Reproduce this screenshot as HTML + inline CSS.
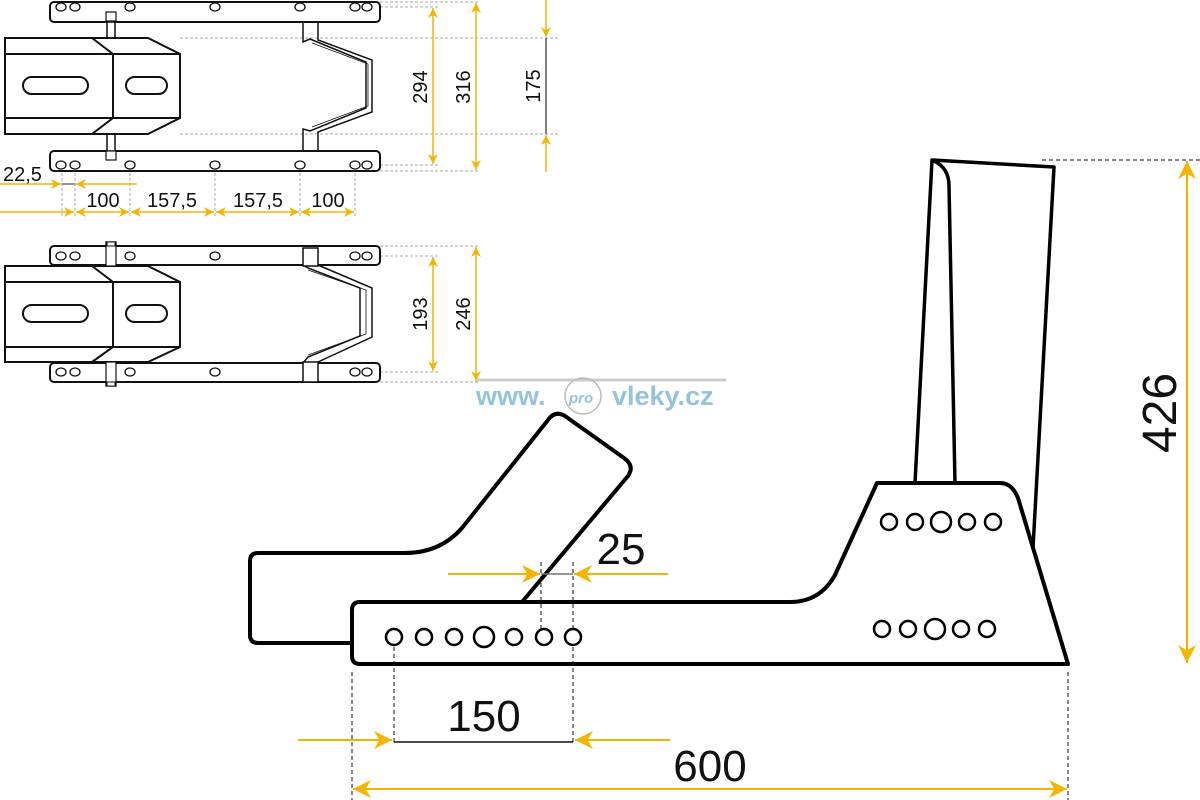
<!DOCTYPE html>
<html><head><meta charset="utf-8"><style>
html,body{margin:0;padding:0;background:#fff;}
svg{display:block;}
text{font-family:"Liberation Sans","DejaVu Sans",sans-serif;fill:#111;}
</style></head><body>
<svg width="1200" height="800" viewBox="0 0 1200 800" xmlns="http://www.w3.org/2000/svg">
<defs>
<marker id="a" viewBox="0 0 10 10" refX="10" refY="5" markerWidth="10" markerHeight="10" markerUnits="userSpaceOnUse" orient="auto-start-reverse"><path d="M0,0 L10,5 L0,10 L3,5 Z" fill="#f5b400"/></marker>
<marker id="b" viewBox="0 0 10 10" refX="10" refY="5" markerWidth="18" markerHeight="18" markerUnits="userSpaceOnUse" orient="auto-start-reverse"><path d="M0,0 L10,5 L0,10 L3,5 Z" fill="#f5b400"/></marker>
</defs>

<!-- ===== TOP VIEW 1 ===== -->
<g fill="none" stroke="#aaa" stroke-width="1" stroke-dasharray="3,2">
<line x1="380" y1="2" x2="480" y2="2"/><line x1="380" y1="7" x2="440" y2="7"/>
<line x1="180" y1="38" x2="560" y2="38"/><line x1="180" y1="134" x2="560" y2="134"/>
<line x1="380" y1="165" x2="440" y2="165"/><line x1="380" y1="171" x2="480" y2="171"/>
<line x1="62" y1="168" x2="62" y2="218"/><line x1="75" y1="168" x2="75" y2="218"/>
<line x1="130" y1="168" x2="130" y2="218"/><line x1="215" y1="168" x2="215" y2="218"/>
<line x1="300" y1="168" x2="300" y2="218"/><line x1="355" y1="168" x2="355" y2="218"/>
<line x1="380" y1="246" x2="480" y2="246"/><line x1="380" y1="256" x2="440" y2="256"/>
<line x1="380" y1="372" x2="440" y2="372"/><line x1="380" y1="382" x2="480" y2="382"/>
</g>
<g fill="#fff" stroke="#111" stroke-width="2">
<rect x="50" y="2" width="330" height="20" rx="4"/>
<rect x="50" y="151" width="330" height="20" rx="4"/>
<rect x="107" y="22" width="8" height="129" stroke-width="1.5"/>
<rect x="106" y="12" width="10" height="9" stroke-width="1.2"/>
<rect x="106" y="151" width="10" height="9" stroke-width="1.2"/>
<path d="M5,38 L148,38 L180,54 L180,118 L148,134 L5,134 Z"/>
<path d="M5,54 H180 M5,118 H180 M92,38 L113,54 V118 L92,134" fill="none"/>
<rect x="23" y="77" width="65" height="17" rx="8.5"/>
<rect x="126" y="77" width="41" height="17" rx="8.5"/>
</g>
<g fill="none" stroke="#111" stroke-width="1.5">
<path d="M303,22 V42 L310,39 L366,62 V108 L310,131 L303,129 V151"/>
<path d="M318,22 V40 L372,60 V112 L318,132 V151"/>
<path d="M312,43 L368,64 V106 L312,127" stroke-width="0.8"/>
</g>
<g fill="none" stroke="#111" stroke-width="1.3">
<ellipse cx="61" cy="7" rx="5" ry="4"/><ellipse cx="75" cy="7" rx="5" ry="4"/><ellipse cx="130" cy="7" rx="5" ry="4"/><ellipse cx="215" cy="7" rx="5" ry="4"/><ellipse cx="300" cy="7" rx="5" ry="4"/><ellipse cx="355" cy="7" rx="5" ry="4"/><ellipse cx="367" cy="7" rx="5" ry="4"/>
<ellipse cx="61" cy="165" rx="5" ry="4"/><ellipse cx="75" cy="165" rx="5" ry="4"/><ellipse cx="130" cy="165" rx="5" ry="4"/><ellipse cx="215" cy="165" rx="5" ry="4"/><ellipse cx="300" cy="165" rx="5" ry="4"/><ellipse cx="355" cy="165" rx="5" ry="4"/><ellipse cx="367" cy="165" rx="5" ry="4"/>
</g>
<!-- dims top view 1 -->
<g stroke="#f5b400" stroke-width="1.5" fill="none">
<line x1="433" y1="8" x2="433" y2="164" marker-start="url(#a)" marker-end="url(#a)"/>
<line x1="476" y1="3" x2="476" y2="170" marker-start="url(#a)" marker-end="url(#a)"/>
<line x1="546" y1="0" x2="546" y2="37" marker-end="url(#a)"/>
<line x1="546" y1="172" x2="546" y2="135" marker-end="url(#a)"/>
<line x1="0" y1="184" x2="61" y2="184" marker-end="url(#a)"/>
<line x1="137" y1="184" x2="76" y2="184" marker-end="url(#a)"/>
<line x1="0" y1="212" x2="74" y2="212" marker-end="url(#a)"/>
<line x1="76" y1="212" x2="129" y2="212" marker-start="url(#a)" marker-end="url(#a)"/>
<line x1="131" y1="212" x2="214" y2="212" marker-start="url(#a)" marker-end="url(#a)"/>
<line x1="216" y1="212" x2="299" y2="212" marker-start="url(#a)" marker-end="url(#a)"/>
<line x1="301" y1="212" x2="354" y2="212" marker-start="url(#a)" marker-end="url(#a)"/>
</g>
<line x1="546" y1="38" x2="546" y2="134" stroke="#555" stroke-width="1.5"/>
<line x1="62" y1="184" x2="75" y2="184" stroke="#555" stroke-width="1.2"/>
<g font-size="20">
<text transform="translate(427,87) rotate(-90)" text-anchor="middle">294</text>
<text transform="translate(470,87) rotate(-90)" text-anchor="middle">316</text>
<text transform="translate(540,86) rotate(-90)" text-anchor="middle">175</text>
<text x="3" y="181">22,5</text>
<text x="103" y="207" text-anchor="middle">100</text>
<text x="172" y="207" text-anchor="middle">157,5</text>
<text x="258" y="207" text-anchor="middle">157,5</text>
<text x="328" y="207" text-anchor="middle">100</text>
<text transform="translate(427,314) rotate(-90)" text-anchor="middle">193</text>
<text transform="translate(470,314) rotate(-90)" text-anchor="middle">246</text>
</g>

<!-- ===== TOP VIEW 2 ===== -->
<g fill="#fff" stroke="#111" stroke-width="2">
<rect x="106" y="242" width="10" height="144" stroke-width="1.2"/>
<path d="M5,266 L148,266 L180,282 L180,347 L148,362 L5,362 Z"/>
<path d="M5,282 H180 M5,347 H180 M92,266 L113,282 V347 L92,362" fill="none"/>
<rect x="23" y="305" width="65" height="17" rx="8.5"/>
<rect x="126" y="305" width="41" height="17" rx="8.5"/>
<rect x="50" y="246" width="330" height="19" rx="4"/>
<rect x="50" y="363" width="330" height="19" rx="4"/>
<path d="M303,265 L308,268 L360,288 V336 L308,357 L303,363 M318,265 L372,288 V337 L318,362" fill="none" stroke-width="1.5"/>
<path d="M308,270 L366,290 V334 L308,355" fill="none" stroke-width="0.8"/>
<rect x="106" y="242" width="10" height="24" stroke-width="1.2"/>
<rect x="106" y="362" width="10" height="24" stroke-width="1.2"/>
<rect x="107" y="242" width="8" height="4" stroke-width="1"/>
<rect x="107" y="382" width="8" height="4" stroke-width="1"/>
<rect x="303" y="248" width="15" height="18" stroke-width="1.5"/>
<rect x="303" y="362" width="15" height="20" stroke-width="1.5"/>
</g>
<g fill="none" stroke="#111" stroke-width="1.3">
<ellipse cx="61" cy="256" rx="5" ry="4"/><ellipse cx="75" cy="256" rx="5" ry="4"/><ellipse cx="130" cy="256" rx="5" ry="4"/><ellipse cx="215" cy="256" rx="5" ry="4"/><ellipse cx="355" cy="256" rx="5" ry="4"/><ellipse cx="367" cy="256" rx="5" ry="4"/>
<ellipse cx="61" cy="372" rx="5" ry="4"/><ellipse cx="75" cy="372" rx="5" ry="4"/><ellipse cx="130" cy="372" rx="5" ry="4"/><ellipse cx="215" cy="372" rx="5" ry="4"/><ellipse cx="355" cy="372" rx="5" ry="4"/><ellipse cx="367" cy="372" rx="5" ry="4"/>
</g>
<g stroke="#f5b400" stroke-width="1.5" fill="none">
<line x1="433" y1="257" x2="433" y2="371" marker-start="url(#a)" marker-end="url(#a)"/>
<line x1="476" y1="247" x2="476" y2="381" marker-start="url(#a)" marker-end="url(#a)"/>
</g>

<!-- ===== watermark ===== -->
<line x1="476" y1="380" x2="726" y2="380" stroke="#ccc" stroke-width="3"/>
<circle cx="583" cy="396" r="18" fill="none" stroke="#bbb" stroke-width="1.5"/>
<text x="476" y="405" font-size="27" font-weight="bold" style="fill:#94c3dd">www.</text>
<text x="569" y="403" font-size="15" font-style="italic" font-weight="bold" style="fill:#94c3dd">pro</text>
<text x="612" y="405" font-size="27" font-weight="bold" style="fill:#94c3dd">vleky.cz</text>

<!-- ===== SIDE VIEW ===== -->
<g fill="none" stroke="#000" stroke-width="3.5" stroke-linejoin="round">
<path d="M915,483 L932,160 L1054,167 L1033,548"/>
<path d="M934,161 Q949,168 949,186 L955,483"/>
</g>
<g fill="#fff" stroke="#000" stroke-width="4" stroke-linejoin="round">
<path d="M352,643 H258 Q250,643 250,635 V561 Q250,553 258,553 H405 Q440,553 462,528 L548,420 Q555,410 565,416 L624,458 Q635,466 628,476 L522,602" />
<path d="M522,602 H790 Q820,602 835,575 L877,483 H1000 Q1012,483 1018,498 L1068,664 H360 Q352,664 352,656 V610 Q352,602 360,602 Z"/>
</g>
<g fill="#fff" stroke="#000" stroke-width="2.5">
<circle cx="394" cy="637" r="8"/><circle cx="424" cy="637" r="8"/><circle cx="454" cy="637" r="8"/><circle cx="484" cy="637" r="10"/><circle cx="514" cy="637" r="8"/><circle cx="544" cy="637" r="8"/><circle cx="573" cy="637" r="8"/>
<circle cx="889" cy="522" r="8"/><circle cx="915" cy="522" r="8"/><circle cx="941" cy="522" r="10"/><circle cx="967" cy="522" r="8"/><circle cx="993" cy="522" r="8"/>
<circle cx="882" cy="629" r="8"/><circle cx="908" cy="629" r="8"/><circle cx="935" cy="629" r="10"/><circle cx="961" cy="629" r="8"/><circle cx="987" cy="629" r="8"/>
</g>
<!-- side dims -->
<g stroke="#111" stroke-width="1" stroke-dasharray="4,3" fill="none">
<line x1="541" y1="562" x2="541" y2="629"/><line x1="573" y1="562" x2="573" y2="629"/>
<line x1="394" y1="647" x2="394" y2="742"/><line x1="573" y1="647" x2="573" y2="742"/>
<line x1="352" y1="672" x2="352" y2="800"/><line x1="1068" y1="672" x2="1068" y2="800"/>
<line x1="1042" y1="160" x2="1200" y2="160"/>
</g>
<line x1="541" y1="574" x2="573" y2="574" stroke="#777" stroke-width="1.5"/>
<line x1="394" y1="742" x2="573" y2="742" stroke="#111" stroke-width="1.5"/>
<g stroke="#f5b400" stroke-width="2" fill="none">
<line x1="448" y1="574" x2="540" y2="574" marker-end="url(#b)"/>
<line x1="668" y1="574" x2="574" y2="574" marker-end="url(#b)"/>
<line x1="298" y1="740" x2="392" y2="740" marker-end="url(#b)"/>
<line x1="670" y1="740" x2="575" y2="740" marker-end="url(#b)"/>
<line x1="353" y1="789" x2="1067" y2="789" marker-start="url(#b)" marker-end="url(#b)"/>
<line x1="1187" y1="161" x2="1187" y2="663" marker-start="url(#b)" marker-end="url(#b)"/>
</g>
<g font-size="44">
<text x="621" y="564" text-anchor="middle">25</text>
<text x="484" y="731" text-anchor="middle">150</text>
<text x="710" y="781" text-anchor="middle">600</text>
<text transform="translate(1176,413) rotate(-90)" text-anchor="middle" font-size="48">426</text>
</g>
</svg>
</body></html>
